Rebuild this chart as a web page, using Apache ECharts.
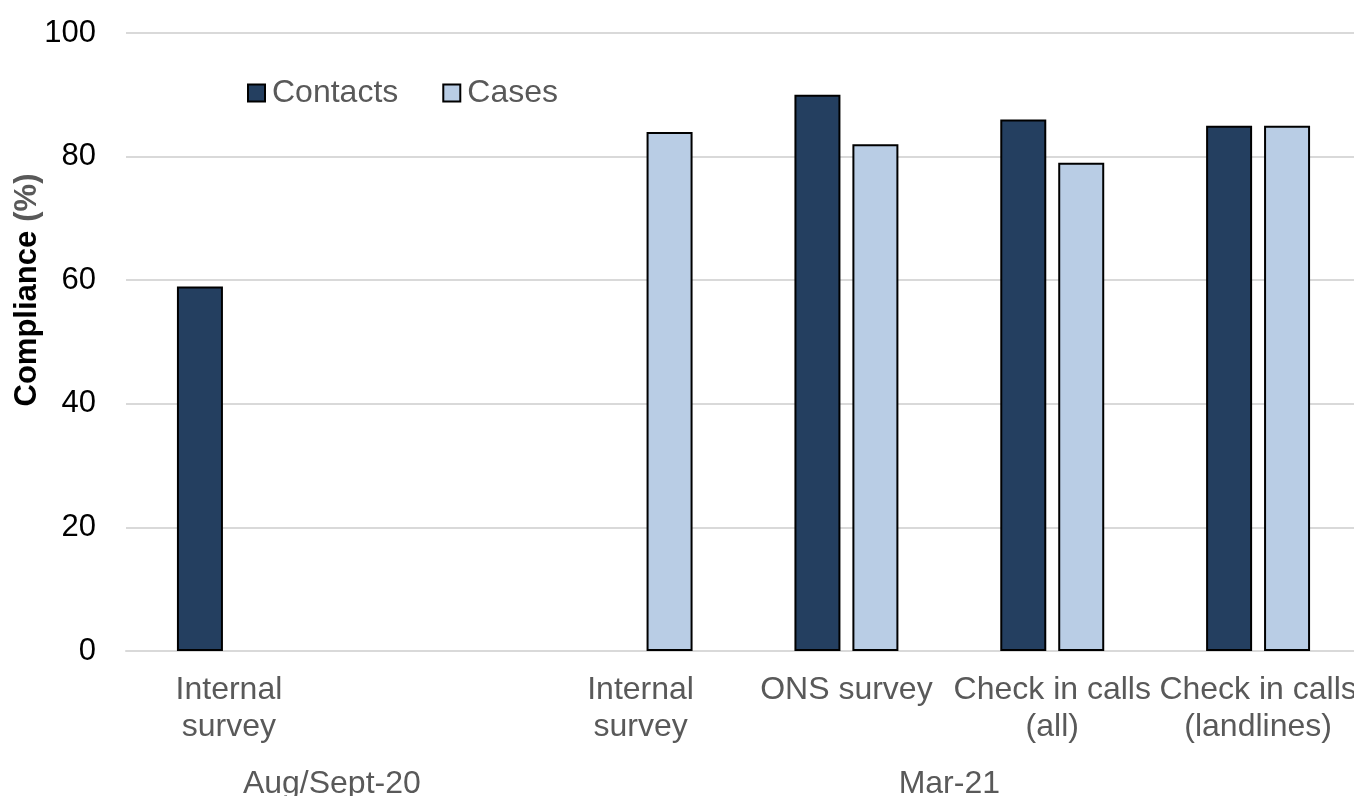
<!DOCTYPE html>
<html>
<head>
<meta charset="utf-8">
<script src="https://cdn.jsdelivr.net/npm/echarts@6/dist/echarts.min.js"></script>
<style>
  html, body { margin: 0; padding: 0; background: #fff; overflow: hidden; }
  /* plot area runs slightly past the right edge of the page */
  #chart { width: 1361px; height: 796px; }
</style>
</head>
<body>
<div id="chart"></div>
<script>
// Survey / check-in sources, grouped by period (blank slot separates the periods)
const categories = ['Internal\nsurvey', '', 'Internal\nsurvey', 'ONS survey', 'Check in calls\n(all)', 'Check in calls\n(landlines)'];
const contacts = [59, null, null, 90, 86, 85];
const cases = [null, null, 84, 82, 79, 85];
const yTicks = [0, 20, 40, 60, 80, 100];

// Period groups and how many category slots each spans
const groupNames = ['Aug/Sept-20', 'Mar-21'];
const groupSpans = [2, 4];

const FONT = "'Liberation Sans', Arial, sans-serif";
const GREY_TEXT = '#595959';
const GRID_LINE = '#d9d9d9';

// midpoint of each group on a 0..N scale laid over the category axis
const groupMid = {};
let acc = 0;
groupSpans.forEach((s, i) => { groupMid[acc + s / 2] = groupNames[i]; acc += s; });

const chart = echarts.init(document.getElementById('chart'), null, { renderer: 'canvas' });

chart.setOption({
  animation: false,
  backgroundColor: '#ffffff',
  textStyle: { fontFamily: FONT },
  grid: { left: 126, top: 33, right: 0, height: 618, containLabel: false, outerBoundsMode: 'none' },
  legend: {
    left: 247,
    top: 77,
    padding: 0,
    itemWidth: 17,
    itemHeight: 17,
    itemGap: 44,
    icon: 'rect',
    textStyle: { fontFamily: FONT, fontSize: 32, color: GREY_TEXT, padding: [0, 0, 0, 2] },
    data: ['Contacts', 'Cases']
  },
  xAxis: [
    {
      type: 'category',
      data: categories,
      position: 'bottom',
      axisLine: { show: true, lineStyle: { color: GRID_LINE, width: 2 } },
      axisTick: { show: false },
      axisLabel: {
        interval: 0,
        margin: 21,
        fontFamily: FONT,
        fontSize: 32,
        lineHeight: 37,
        color: GREY_TEXT
      }
    },
    {
      type: 'value',
      min: 0,
      max: categories.length,
      interval: 1,
      position: 'bottom',
      axisLine: { show: false },
      axisTick: { show: false },
      splitLine: { show: false },
      axisLabel: {
        margin: 117,
        fontFamily: FONT,
        fontSize: 32,
        color: GREY_TEXT,
        showMinLabel: true,
        showMaxLabel: true,
        formatter: v => groupMid[v] || ''
      }
    }
  ],
  yAxis: {
    type: 'value',
    min: yTicks[0],
    max: yTicks[yTicks.length - 1],
    interval: yTicks[1] - yTicks[0],
    axisLine: { show: false },
    axisTick: { show: false },
    splitLine: { show: true, lineStyle: { color: GRID_LINE, width: 2 } },
    axisLabel: { margin: 30, fontFamily: FONT, fontSize: 31, color: '#000000' },
    name: '{a|Compliance}{s| }{b|(%)}',
    nameLocation: 'middle',
    nameRotate: 90,
    nameGap: 83,
    nameMoveOverlap: false,
    nameTextStyle: {
      padding: [0, 0, 0, 104],
      rich: {
        a: { fontFamily: FONT, fontSize: 31, fontWeight: 'bold', color: '#000000' },
        s: { fontFamily: FONT, fontSize: 31, width: 9 },
        b: { fontFamily: FONT, fontSize: 31, fontWeight: 'bold', color: GREY_TEXT }
      }
    }
  },
  series: [
    {
      name: 'Contacts',
      type: 'bar',
      data: contacts,
      barWidth: 46,
      barGap: '26%',
      itemStyle: { color: '#243F60', borderColor: '#000000', borderWidth: 2 }
    },
    {
      name: 'Cases',
      type: 'bar',
      data: cases,
      barWidth: 46,
      barGap: '26%',
      itemStyle: { color: '#B9CDE5', borderColor: '#000000', borderWidth: 2 }
    }
  ]
});
</script>
</body>
</html>
